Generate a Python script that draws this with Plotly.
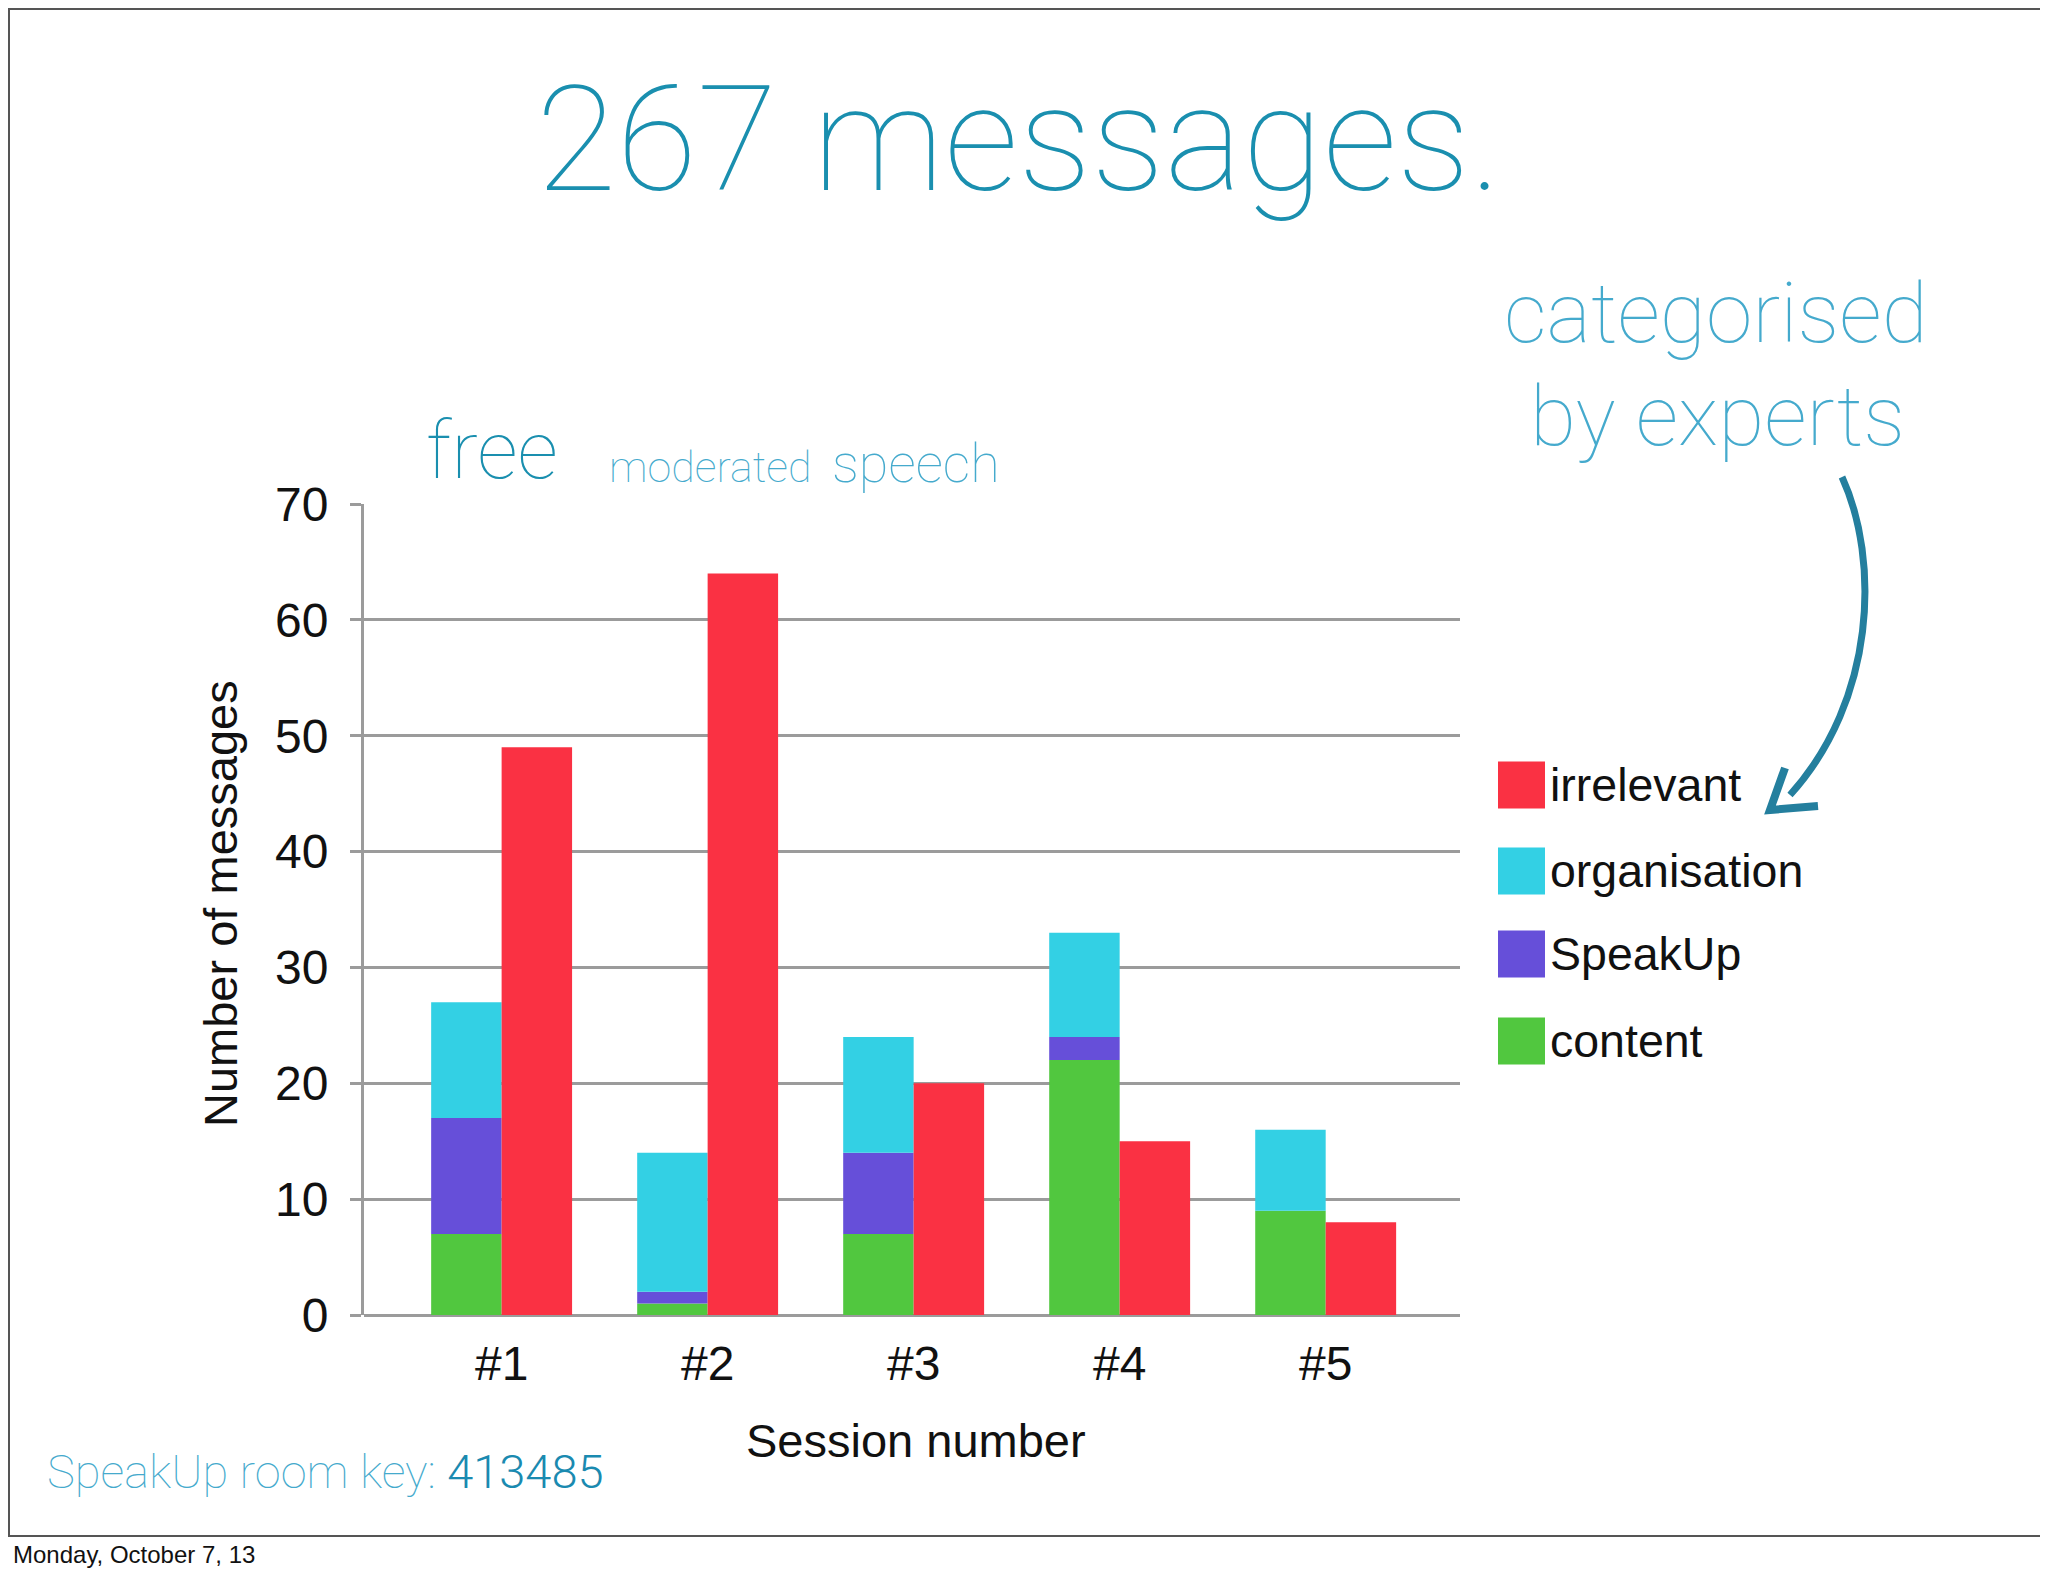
import numpy as np
import plotly.graph_objects as go

W, H = 2048, 1576
OFF = 8  # the page body margin shifts the figure by this much

sessions = ["#1", "#2", "#3", "#4", "#5"]
content = [7, 1, 7, 22, 9]
speakup = [10, 1, 7, 2, 0]
organisation = [10, 12, 10, 9, 7]
irrelevant = [49, 64, 20, 15, 8]

legend_names = ["irrelevant", "organisation", "SpeakUp", "content"]
colors = {
    "irrelevant": "#FA3143",
    "organisation": "#33D0E4",
    "SpeakUp": "#664FD9",
    "content": "#51C73F",
}

TEAL = "#1A8FAF"
LIGHT_TEAL = "#45AACD"
GRID = "#9B9B9B"


def px(x):
    return (x - OFF) / W


def py(y):
    return 1 - (y - OFF) / H


pos = np.arange(len(sessions))
bw = 0.342

fig = go.Figure()

# stacked column: content / SpeakUp / organisation
base = np.zeros(len(sessions))
for name, vals in [("content", content), ("SpeakUp", speakup), ("organisation", organisation)]:
    fig.add_trace(go.Bar(
        x=pos, y=vals, base=base.copy(), width=bw, offset=-bw,
        marker=dict(color=colors[name], line=dict(width=0)),
        name=name, showlegend=False,
    ))
    base = base + np.array(vals)

fig.add_trace(go.Bar(
    x=pos, y=irrelevant, width=bw, offset=0,
    marker=dict(color=colors["irrelevant"], line=dict(width=0)),
    name="irrelevant", showlegend=False,
))

fig.update_layout(
    width=W, height=H,
    margin=dict(l=0, r=0, t=0, b=0, pad=0, autoexpand=False),
    paper_bgcolor="white", plot_bgcolor="white",
    barmode="overlay",
    showlegend=False,
    font=dict(family="Liberation Sans, Arial", color="#111"),
)

fig.update_xaxes(
    domain=[px(364), px(1460)],
    range=[-0.668, 4.652],
    tickvals=pos, ticktext=sessions,
    showgrid=False, zeroline=False, showline=False, ticks="",
    tickfont=dict(size=48, color="#111"),
    ticklabelstandoff=16, automargin=False,
)

fig.update_yaxes(
    domain=[py(1315), py(504)],
    range=[0, 70], dtick=10,
    showgrid=True, gridcolor=GRID, gridwidth=3,
    zeroline=True, zerolinecolor=GRID, zerolinewidth=3,
    showline=True, linecolor=GRID, linewidth=3,
    ticks="outside", ticklen=11, tickwidth=3, tickcolor=GRID,
    tickfont=dict(size=48, color="#111"),
    ticklabelstandoff=12, automargin=False,
)

ann = []


def text(x, y, s, size, color, family="Roboto", weight=100, xanchor="left", angle=0):
    ann.append(dict(
        x=px(x), y=py(y), xref="paper", yref="paper", text=s, showarrow=False,
        xanchor=xanchor, yanchor="middle", textangle=angle,
        font=dict(family=family, size=size, color=color, weight=weight),
    ))


# slide texts
text(1019, 140, "267 messages.", 147, TEAL, xanchor="center")
text(424, 451, "free", 80, TEAL)
text(607, 467, "moderated", 43, LIGHT_TEAL)
text(830, 464, "speech", 54, LIGHT_TEAL)
text(1716, 313, "categorised", 84, LIGHT_TEAL, xanchor="center")
text(1717, 416, "by experts", 84, LIGHT_TEAL, xanchor="center")
text(45, 1471, "SpeakUp room key: <span style='color:#1A8AB0;font-weight:300'>413485</span>",
     47, LIGHT_TEAL)
text(11, 1554, "Monday, October 7, 13", 24, "#111", family="Liberation Sans", weight=400)

# axis titles
text(220, 904, "Number of messages", 47, "#111", family="Liberation Sans", weight=400,
     xanchor="center", angle=-90)
text(916, 1440, "Session number", 47, "#111", family="Liberation Sans", weight=400,
     xanchor="center")

# legend
shapes = []
leg_y = [785, 871, 954, 1041]
for name, cy in zip(legend_names, leg_y):
    shapes.append(dict(
        type="rect", xref="paper", yref="paper",
        x0=px(1498), x1=px(1545), y0=py(cy + 23.5), y1=py(cy - 23.5),
        fillcolor=colors[name], line=dict(width=0),
    ))
    text(1548, cy, name, 46.5, "#111", family="Liberation Sans", weight=400)


def path(cmds):
    out = []
    for c in cmds:
        if isinstance(c, str):
            out.append(c)
        else:
            out.append(f"{px(c[0]):.5f},{py(c[1]):.5f}")
    return " ".join(out)


ARROW = "#247F9E"
shapes.append(dict(
    type="path", xref="paper", yref="paper",
    path=path(["M", (1842, 477), "C", (1880, 560), (1876, 700), (1790, 795)]),
    line=dict(color=ARROW, width=7),
))
shapes.append(dict(
    type="path", xref="paper", yref="paper",
    path=path(["M", (1785, 768), "L", (1770, 810), "L", (1818, 806)]),
    line=dict(color=ARROW, width=8),
))

# slide frame
shapes.append(dict(
    type="rect", xref="paper", yref="paper",
    x0=1 / W, x1=px(2046), y0=py(1536), y1=1 - 1 / H,
    line=dict(color="#555", width=2),
))

fig.update_layout(annotations=ann, shapes=shapes)

fig.write_html("out.html")
